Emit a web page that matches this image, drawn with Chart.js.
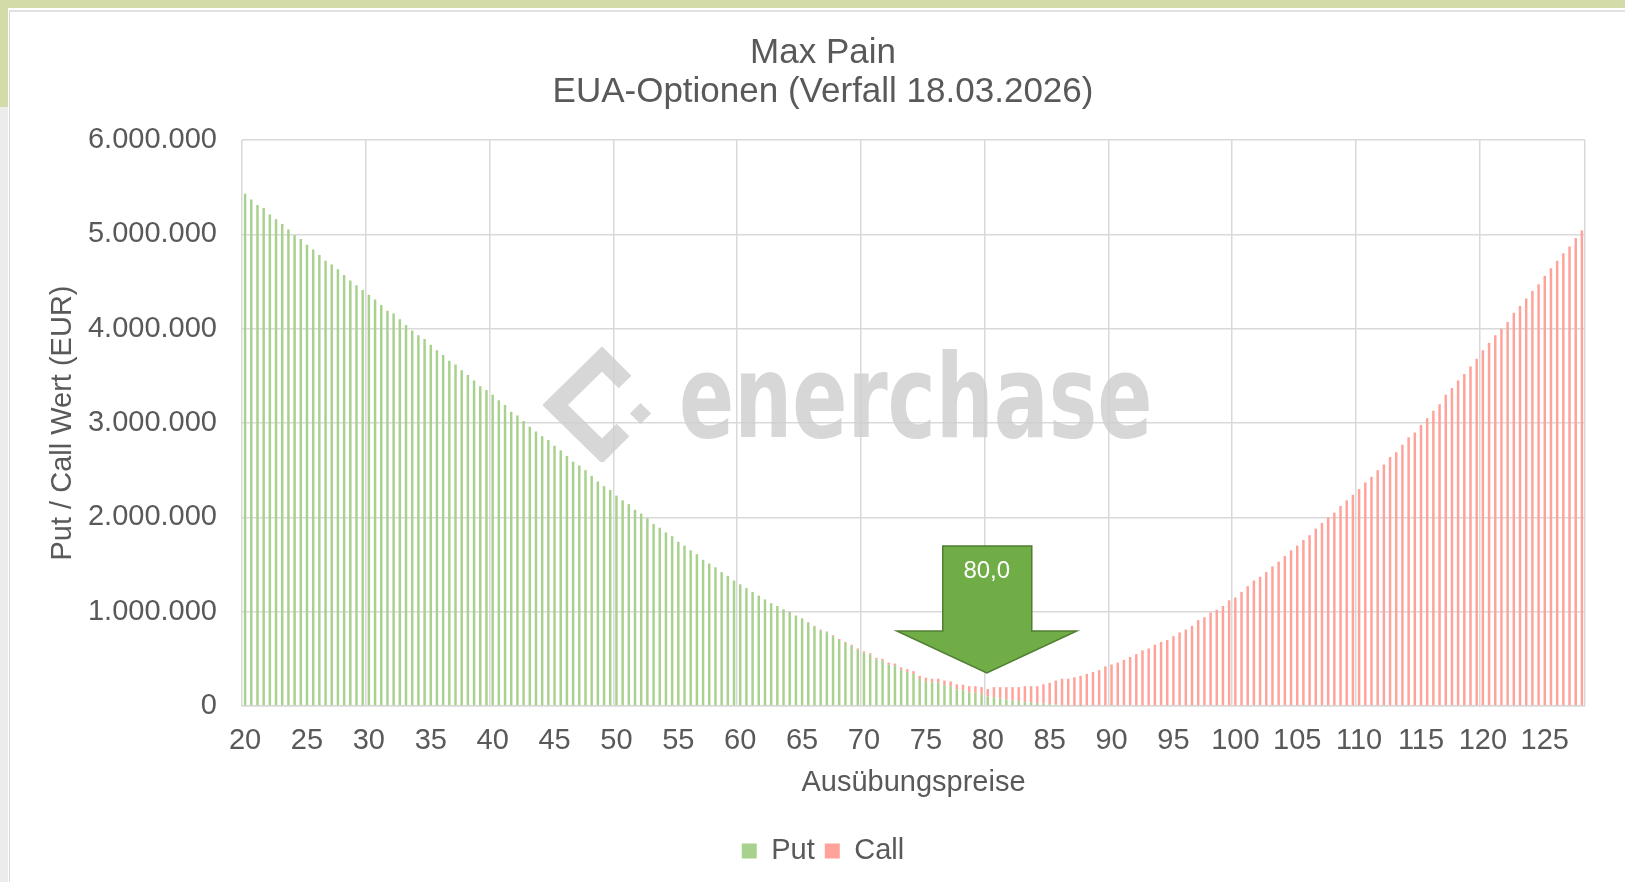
<!DOCTYPE html>
<html>
<head>
<meta charset="utf-8">
<script src="https://cdn.jsdelivr.net/npm/chart.js@4.4.1/dist/chart.umd.min.js"></script>
<style>
    html, body { margin: 0; padding: 0; }
    body { width: 1625px; height: 882px; position: relative; overflow: hidden; background: #fff; }
    .band-top { position: absolute; left: 0; top: 0; width: 1625px; height: 8px; background: #d3dba9; }
    .band-left { position: absolute; left: 0; top: 0; width: 8px; height: 107px; background: #d3dba9; }
    .band-left-low { position: absolute; left: 0; top: 107px; width: 8px; height: 775px; background: #ececec; }
    .card { position: absolute; left: 9px; top: 10px; right: 0; bottom: 0; background: #fff;
            border-left: 1px solid #d8d8d8; border-top: 2px solid #e2e2e2; }
    #chart { position: absolute; left: 0; top: 0; }
    .wm { position: absolute; left: 679px; top: 339px; white-space: nowrap;
          font: bold 116px/116px 'Liberation Sans Narrow', 'DejaVu Sans Condensed', sans-serif;
          color: rgba(205, 205, 205, 0.8); transform: scaleX(0.78); transform-origin: left top; }
    .logo { position: absolute; left: 543px; top: 347px; }
</style>
</head>
<body>
<div class="band-top"></div>
<div class="band-left"></div>
<div class="band-left-low"></div>
<div class="card"></div>
<canvas id="chart" width="1625" height="882"></canvas>
<svg class="logo" width="125" height="115" viewBox="0 0 125 115">
    <polyline points="82,35 59,12 12,58 59,104 80,83" fill="none" stroke="rgba(205,205,205,0.8)" stroke-width="18"/>
    <rect x="90" y="59" width="15" height="15" transform="rotate(45 97.5 66.5)" fill="rgba(205,205,205,0.8)"/>
</svg>
<div class="wm">enerchase</div>

<script>
// ------------------------------------------------------------
// Max Pain — EUA-Optionen (Verfall 18.03.2026)
// ------------------------------------------------------------

// Ausübungspreise (Kategorien)
const strikes = [
    20, 20.5, 21, 21.5, 22, 22.5, 23, 23.5, 24, 24.5,
    25, 25.5, 26, 26.5, 27, 27.5, 28, 28.5, 29, 29.5,
    30, 30.5, 31, 31.5, 32, 32.5, 33, 33.5, 34, 34.5,
    35, 35.5, 36, 36.5, 37, 37.5, 38, 38.5, 39, 39.5,
    40, 40.5, 41, 41.5, 42, 42.5, 43, 43.5, 44, 44.5,
    45, 45.5, 46, 46.5, 47, 47.5, 48, 48.5, 49, 49.5,
    50, 50.5, 51, 51.5, 52, 52.5, 53, 53.5, 54, 54.5,
    55, 55.5, 56, 56.5, 57, 57.5, 58, 58.5, 59, 59.5,
    60, 60.5, 61, 61.5, 62, 62.5, 63, 63.5, 64, 64.5,
    65, 65.5, 66, 66.5, 67, 67.5, 68, 68.5, 69, 69.5,
    70, 70.5, 71, 71.5, 72, 72.5, 73, 73.5, 74, 74.5,
    75, 75.5, 76, 76.5, 77, 77.5, 78, 78.5, 79, 79.5,
    80, 80.5, 81, 81.5, 82, 82.5, 83, 83.5, 84, 84.5,
    85, 85.5, 86, 86.5, 87, 87.5, 88, 88.5, 89, 89.5,
    90, 90.5, 91, 91.5, 92, 92.5, 93, 93.5, 94, 94.5,
    95, 95.5, 96, 96.5, 97, 97.5, 98, 98.5, 99, 99.5,
    100, 100.5, 101, 101.5, 102, 102.5, 103, 103.5, 104, 104.5,
    105, 105.5, 106, 106.5, 107, 107.5, 108, 108.5, 109, 109.5,
    110, 110.5, 111, 111.5, 112, 112.5, 113, 113.5, 114, 114.5,
    115, 115.5, 116, 116.5, 117, 117.5, 118, 118.5, 119, 119.5,
    120, 120.5, 121, 121.5, 122, 122.5, 123, 123.5, 124, 124.5,
    125, 125.5, 126, 126.5, 127, 127.5, 128
];

// Beschriftete Ausübungspreise auf der x-Achse
const xTickLabels = [20, 25, 30, 35, 40, 45, 50, 55, 60, 65, 70, 75, 80, 85, 90, 95, 100, 105, 110, 115, 120, 125];

// Put-Wert je Ausübungspreis (EUR)
const putValues = [
    5430000, 5370000, 5310000, 5280000, 5210000, 5160000, 5110000, 5050000, 4990000, 4950000,
    4890000, 4840000, 4780000, 4720000, 4680000, 4630000, 4570000, 4510000, 4460000, 4410000,
    4360000, 4310000, 4250000, 4190000, 4160000, 4100000, 4040000, 3980000, 3930000, 3890000,
    3830000, 3770000, 3720000, 3660000, 3620000, 3560000, 3510000, 3450000, 3390000, 3350000,
    3300000, 3240000, 3190000, 3120000, 3080000, 3020000, 2960000, 2910000, 2860000, 2820000,
    2760000, 2710000, 2650000, 2590000, 2550000, 2500000, 2440000, 2380000, 2330000, 2290000,
    2230000, 2180000, 2140000, 2080000, 2040000, 1990000, 1930000, 1890000, 1840000, 1800000,
    1740000, 1700000, 1650000, 1610000, 1550000, 1510000, 1470000, 1420000, 1380000, 1330000,
    1290000, 1250000, 1210000, 1170000, 1130000, 1090000, 1060000, 1025000, 998000, 957000,
    926000, 885000, 844000, 803000, 782000, 741000, 700000, 669000, 638000, 597000,
    565000, 544000, 492000, 480000, 438000, 426000, 384000, 362000, 339000, 286000,
    263000, 250000, 246000, 222000, 208000, 174000, 165000, 145000, 140000, 125000,
    100000, 90000, 80000, 70000, 60000, 50000, 40000, 35000, 30000, 25000,
    20000, 15000, 10000, 7000, 4000, 2000, 0, 0, 0, 0,
    0, 0, 0, 0, 0, 0, 0, 0, 0, 0,
    0, 0, 0, 0, 0, 0, 0, 0, 0, 0,
    0, 0, 0, 0, 0, 0, 0, 0, 0, 0,
    0, 0, 0, 0, 0, 0, 0, 0, 0, 0,
    0, 0, 0, 0, 0, 0, 0, 0, 0, 0,
    0, 0, 0, 0, 0, 0, 0, 0, 0, 0,
    0, 0, 0, 0, 0, 0, 0, 0, 0, 0,
    0, 0, 0, 0, 0, 0, 0
];

// Call-Wert je Ausübungspreis (EUR)
const callValues = [
    0, 0, 0, 0, 0, 0, 0, 0, 0, 0,
    0, 0, 0, 0, 0, 0, 0, 0, 0, 0,
    0, 0, 0, 0, 0, 0, 0, 0, 0, 0,
    0, 0, 0, 0, 0, 0, 0, 0, 0, 0,
    0, 0, 0, 0, 0, 0, 0, 0, 0, 0,
    0, 0, 0, 0, 0, 0, 0, 0, 0, 0,
    0, 0, 0, 0, 0, 0, 0, 0, 0, 0,
    0, 0, 0, 0, 0, 0, 0, 0, 0, 0,
    0, 0, 0, 0, 0, 0, 0, 0, 2000, 3000,
    4000, 5000, 6000, 7000, 8000, 9000, 10000, 11000, 12000, 13000,
    15000, 16000, 18000, 20000, 22000, 24000, 26000, 28000, 31000, 34000,
    37000, 40000, 44000, 48000, 52000, 56000, 60000, 65000, 70000, 75000,
    80000, 110000, 120000, 130000, 140000, 150000, 170000, 175000, 180000, 205000,
    225000, 255000, 280000, 283000, 301000, 318000, 340000, 360000, 380000, 420000,
    440000, 460000, 490000, 520000, 550000, 590000, 610000, 650000, 680000, 700000,
    740000, 780000, 810000, 850000, 910000, 940000, 990000, 1020000, 1060000, 1120000,
    1150000, 1210000, 1270000, 1330000, 1370000, 1420000, 1480000, 1530000, 1590000, 1650000,
    1700000, 1760000, 1810000, 1880000, 1940000, 2000000, 2050000, 2120000, 2180000, 2240000,
    2300000, 2370000, 2430000, 2500000, 2560000, 2640000, 2690000, 2770000, 2850000, 2900000,
    2980000, 3050000, 3130000, 3200000, 3300000, 3370000, 3450000, 3520000, 3600000, 3680000,
    3770000, 3850000, 3930000, 4000000, 4070000, 4170000, 4240000, 4320000, 4400000, 4470000,
    4560000, 4640000, 4720000, 4800000, 4870000, 4960000, 5040000
];

// Max-Pain-Preis und Spitze des Pfeils (EUR)
const maxPainStrike = 80;
const arrowTipValue = 350000;

const TEXTE = '#595959';
const GRILLE = '#d9d9d9';

Chart.defaults.font.family = "'Liberation Sans', Arial, sans-serif";
Chart.defaults.color = TEXTE;

// 1.000.000 statt 1,000,000
function formatDe(v) {
    return String(v).replace(/\B(?=(\d{3})+(?!\d))/g, '.');
}

// Grüner Pfeil mit dem Max-Pain-Wert
const pfeilMaxPain = {
    id: 'pfeilMaxPain',
    afterDatasetsDraw(chart) {
        const { ctx, scales: { x, y } } = chart;
        const cx = x.getPixelForValue(strikes.indexOf(maxPainStrike));
        const tipY = y.getPixelForValue(arrowTipValue);
        const headY = tipY - 42;
        const topY = tipY - 127;
        ctx.save();
        ctx.beginPath();
        ctx.moveTo(cx - 45, topY);
        ctx.lineTo(cx + 44, topY);
        ctx.lineTo(cx + 44, headY);
        ctx.lineTo(cx + 89, headY);
        ctx.lineTo(cx - 1, tipY);
        ctx.lineTo(cx - 91, headY);
        ctx.lineTo(cx - 45, headY);
        ctx.closePath();
        ctx.fillStyle = '#70AD47';
        ctx.fill();
        ctx.lineWidth = 1.5;
        ctx.strokeStyle = '#507E32';
        ctx.stroke();
        ctx.fillStyle = '#ffffff';
        ctx.font = "24px 'Liberation Sans', Arial, sans-serif";
        ctx.textAlign = 'center';
        ctx.textBaseline = 'middle';
        ctx.fillText(maxPainStrike.toFixed(1).replace('.', ','), cx - 1, topY + 25);
        ctx.restore();
    }
};

new Chart(document.getElementById('chart'), {
    type: 'bar',
    data: {
        labels: strikes,
        datasets: [
            {
                label: 'Put',
                data: putValues,
                backgroundColor: '#A9D18E',
                barPercentage: 0.4,
                categoryPercentage: 1
            },
            {
                label: 'Call',
                data: callValues,
                backgroundColor: '#FFA39A',
                barPercentage: 0.4,
                categoryPercentage: 1
            }
        ]
    },
    options: {
        responsive: false,
        animation: false,
        devicePixelRatio: 1,
        layout: { padding: { left: 61, right: 40, top: 0, bottom: 6.5 } },
        plugins: {
            title: {
                display: true,
                text: ['Max Pain', 'EUA-Optionen (Verfall 18.03.2026)'],
                color: TEXTE,
                font: { size: 35, weight: 'normal', lineHeight: 39 / 35 },
                padding: { top: 33.5, bottom: 28.5 }
            },
            legend: {
                position: 'bottom',
                labels: { boxWidth: 15, boxHeight: 15, color: TEXTE, font: { size: 29 } }
            },
            tooltip: { enabled: false }
        },
        scales: {
            x: {
                stacked: true,
                grid: {
                    offset: true,
                    drawTicks: false,
                    lineWidth: 1.5,
                    color: function (ctx) {
                        if (ctx.type !== 'tick') return GRILLE;
                        return strikes[ctx.index] % 10 === 0 ? GRILLE : 'rgba(0,0,0,0)';
                    }
                },
                border: { display: true, color: GRILLE, width: 1.5 },
                ticks: {
                    autoSkip: false,
                    maxRotation: 0,
                    minRotation: 0,
                    padding: 18,
                    color: TEXTE,
                    font: { size: 29 },
                    callback: function (v, i) {
                        return xTickLabels.includes(strikes[i]) ? String(strikes[i]) : '';
                    }
                },
                title: {
                    display: true,
                    text: 'Ausübungspreise',
                    color: TEXTE,
                    font: { size: 29 },
                    padding: { top: 4, bottom: 26 }
                },
                afterFit: function (s) { s.height = 120.5; }
            },
            y: {
                stacked: true,
                min: 0,
                max: 6000000,
                grid: { color: GRILLE, lineWidth: 1.5, drawTicks: false },
                border: { display: false },
                ticks: {
                    stepSize: 1000000,
                    padding: 25,
                    color: TEXTE,
                    font: { size: 29 },
                    callback: function (v) { return formatDe(v); }
                },
                title: {
                    display: true,
                    text: 'Put / Call Wert (EUR)',
                    color: TEXTE,
                    font: { size: 29 },
                    padding: { top: -15, bottom: 4 }
                },
                afterFit: function (s) { s.width = 181; }
            }
        }
    },
    plugins: [pfeilMaxPain]
});
</script>
</body>
</html>
